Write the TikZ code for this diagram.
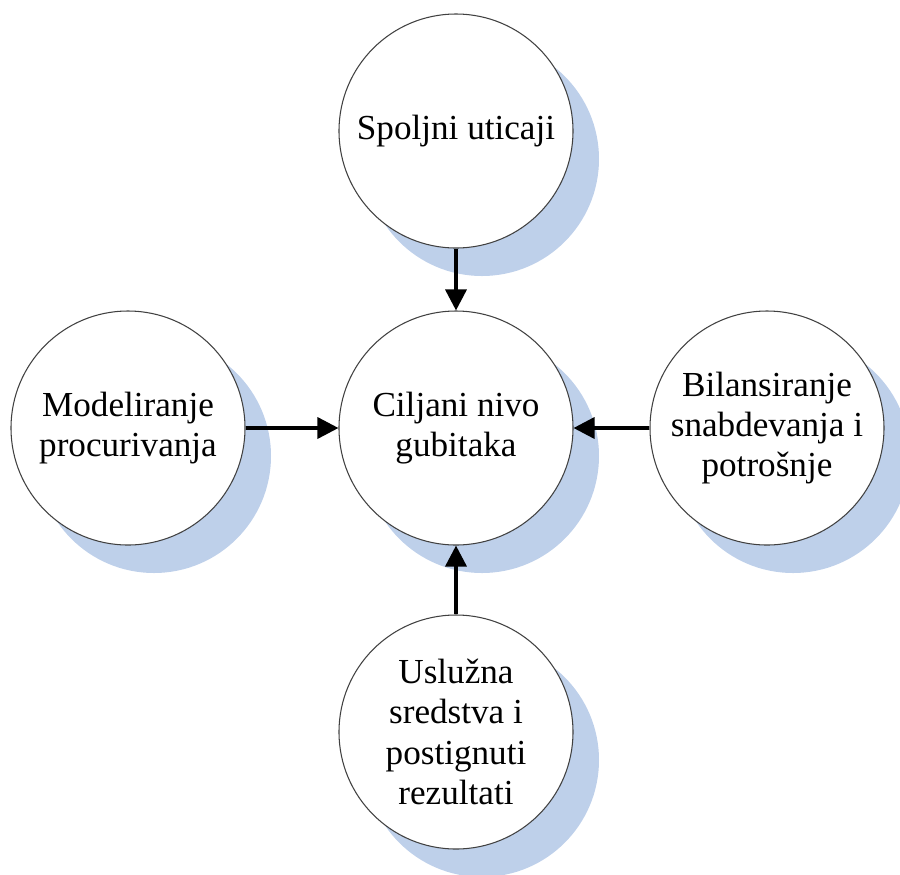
\documentclass[tikz,border=0pt]{standalone}
\usepackage{fontspec}
\setmainfont{Liberation Serif}
\usepackage{tikz}
\usetikzlibrary{arrows.meta,positioning,backgrounds}
\definecolor{shadowblue}{RGB}{190,208,234}

\begin{document}
\begin{tikzpicture}[
  topic/.style={circle, draw=black!75, line width=0.6pt, fill=white,
    minimum size=4.68cm, inner sep=2pt, align=center,
    font=\fontsize{20}{23}\selectfont},
  flow/.style={-{Triangle[length=0.42cm, width=0.42cm]}, line width=2pt}
]
\useasboundingbox (0,0) rectangle (18,-17.48);

% Circles
\node[topic] (goal)    at (9.12,-8.56)  {Ciljani nivo\\gubitaka};
\node[topic] (outside) at (9.12,-2.62)  {Spoljni uticaji};
\node[topic] (leak)    at (2.56,-8.56)  {Modeliranje\\procurivanja};
\node[topic] (balance) at (15.34,-8.56) {Bilansiranje\\snabdevanja i\\potrošnje};
\node[topic] (service) at (9.12,-14.64) {Uslužna\\sredstva i\\postignuti\\rezultati};

% Shadows
\begin{scope}[on background layer]
\foreach \x in {goal, outside, leak, balance, service} {
  \fill[shadowblue] ([shift={(0.52,-0.56)}]\x.center) circle (2.34);
}
\end{scope}

% Arrows
\draw[flow] (outside) -- (goal);
\draw[flow] (leak) -- (goal);
\draw[flow] (balance) -- (goal);
\draw[flow] (service) -- (goal);

\end{tikzpicture}
\end{document}
